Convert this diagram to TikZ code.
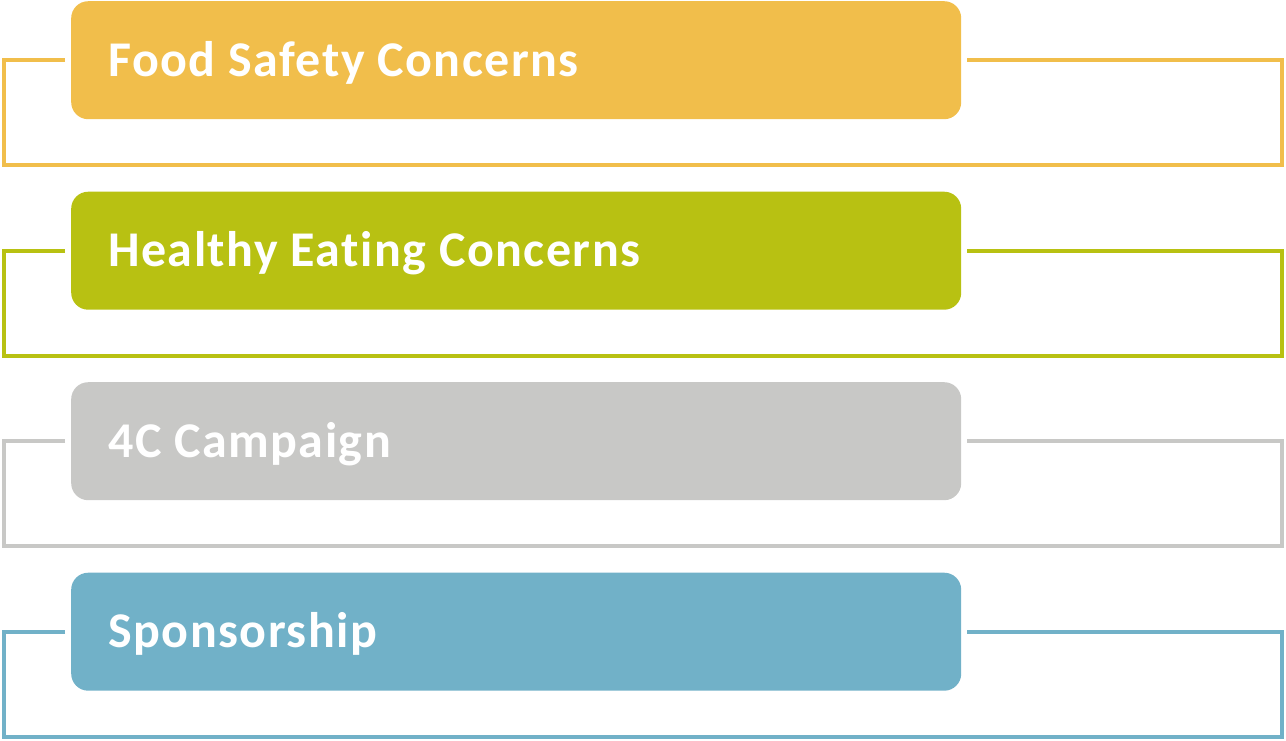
\documentclass[tikz,border=0pt]{standalone}
\usepackage{fontspec}
\setmainfont{Carlito}[LetterSpace=3.0,Ligatures=NoCommon]
\usetikzlibrary{positioning,calc}

\definecolor{safetyyellow}{HTML}{F1BE4B}
\definecolor{healthgreen}{HTML}{B8C112}
\definecolor{campaigngrey}{HTML}{C8C8C6}
\definecolor{sponsorblue}{HTML}{71B1C8}

\begin{document}
\begin{tikzpicture}[x=1pt,y=-1pt]
      \def \rowgap {190.5}
      \def \boxwd {890pt}
      \def \boxht {118pt}
      \useasboundingbox (0,0) rectangle (1286,740);
      \foreach \col/\txt [count=\i from 0] in {safetyyellow/Food Safety Concerns,
               healthgreen/Healthy Eating Concerns,
               campaigngrey/4C Campaign,
               sponsorblue/Sponsorship}
               {
                 \node[fill=\col, rounded corners=17pt, minimum width=\boxwd,
                       minimum height=\boxht, anchor=north west] (box\i) at (71,{1+\rowgap*\i}) {};
                 \node[anchor=base west, inner sep=0pt, text=white,
                       font=\bfseries\fontsize{50}{56}\selectfont]
                       (label\i) at ([xshift=37pt,yshift=-16pt]box\i.west) {\txt};
                 % open frame behind the box
                 \draw[\col, line width=4pt] ([xshift=-6pt]box\i.west) -- ++(-61,0)
                   -- ++(0,105) -- ++(1278,0) -- ++(0,-105) -- ([xshift=6pt]box\i.east);
               }
\end{tikzpicture}
\end{document}
